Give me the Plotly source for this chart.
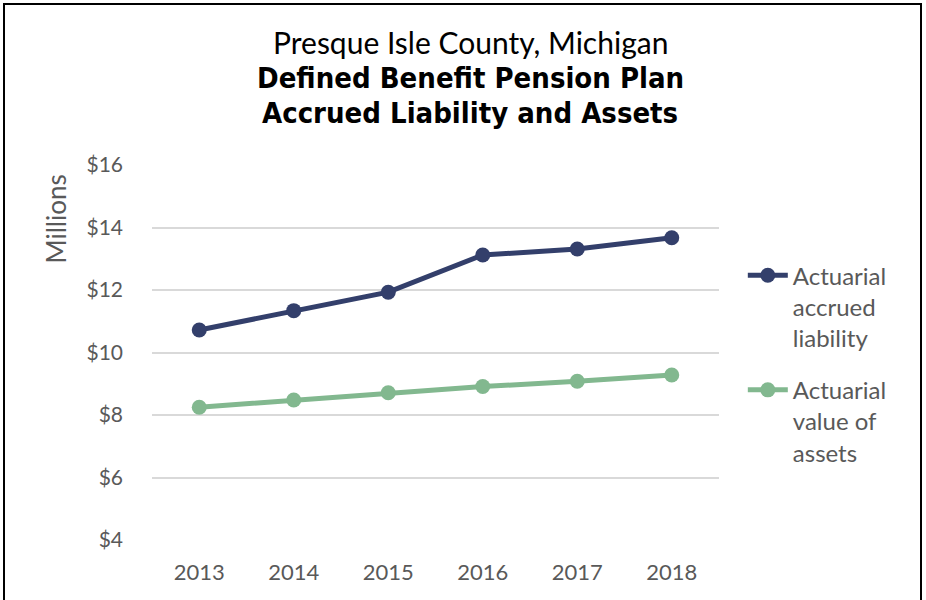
import plotly.graph_objects as go

years = ["2013", "2014", "2015", "2016", "2017", "2018"]
liability = [10.72, 11.34, 11.93, 13.12, 13.31, 13.67]
assets = [8.25, 8.48, 8.71, 8.91, 9.08, 9.28]
y_ticks = [4, 6, 8, 10, 12, 14, 16]
y_labels = ["$4", "$6", "$8", "$10", "$12", "$14", "$16"]
title_lines = ["Presque Isle County, Michigan",
               "Defined Benefit Pension Plan",
               "Accrued Liability and Assets"]

FONT = "Lato"
BOLD_FONT = "DejaVu Sans Condensed"
GREY = "#595959"

fig = go.Figure()
fig.add_trace(go.Scatter(
    x=years, y=liability, mode="lines+markers",
    name="Actuarial<br>accrued<br>liability", legendgroup="a",
    line=dict(color="#333F6B", width=5),
    marker=dict(size=15, color="#333F6B"),
))
fig.add_trace(go.Scatter(
    x=years, y=assets, mode="lines+markers",
    name="Actuarial<br>value of<br>assets", legendgroup="b",
    line=dict(color="#82B88F", width=5),
    marker=dict(size=15, color="#82B88F"),
))

fig.update_layout(
    width=926, height=600,
    margin=dict(l=152, r=207, t=165, b=60),
    paper_bgcolor="white", plot_bgcolor="white",
    font=dict(family=FONT, color=GREY, size=20),
    showlegend=True,
    legend=dict(
        x=1.042, y=0.765, xanchor="left", yanchor="top",
        font=dict(size=24, color=GREY), valign="top",
        itemwidth=40, tracegroupgap=18,
    ),
    xaxis=dict(
        range=[-0.5, 5.5],
        showgrid=False, showline=False, ticks="",
        tickfont=dict(size=22, color=GREY), ticklabelstandoff=17,
    ),
    yaxis=dict(
        range=[4, 16], tickvals=y_ticks, ticktext=y_labels,
        showgrid=True, gridcolor="#D9D9D9", gridwidth=1.5,
        zeroline=False, showline=False, ticks="",
        tickfont=dict(size=21, color=GREY), ticklabelstandoff=28,
    ),
)

# title: one annotation per line so fonts can differ
cx = (470 - 152) / 567
fig.add_annotation(text=title_lines[0], xref="paper", yref="paper",
                   x=cx, y=(540 - 42) / 375, xanchor="center", yanchor="middle",
                   showarrow=False, font=dict(size=30, color="black", family=FONT))
for line, ypix in zip(title_lines[1:], [78, 113]):
    fig.add_annotation(text="<b>" + line + "</b>", xref="paper", yref="paper",
                       x=cx, y=(540 - ypix) / 375, xanchor="center", yanchor="middle",
                       showarrow=False, font=dict(size=29, color="black", family=BOLD_FONT))

# y axis title near top
fig.add_annotation(text="Millions", xref="paper", yref="paper",
                   x=(55 - 152) / 567, y=(540 - 173) / 375, textangle=-90,
                   xanchor="center", yanchor="top", showarrow=False,
                   font=dict(size=26, color=GREY, family=FONT))

# outer frame
fig.add_shape(type="rect", xref="paper", yref="paper",
              x0=(4 - 152) / 567, x1=(921 - 152) / 567,
              y0=(540 - 603) / 375, y1=(540 - 4) / 375,
              line=dict(color="black", width=2))

fig.write_html("out.html", config={"displayModeBar": False},
               post_script="document.body.style.margin='0';")
